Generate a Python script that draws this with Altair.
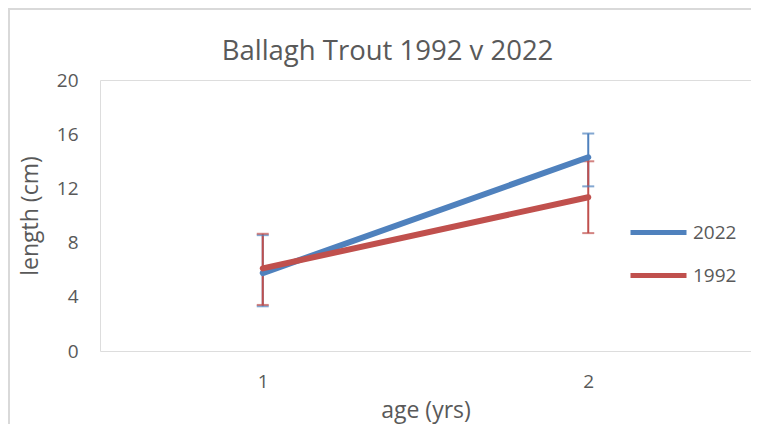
import altair as alt
import pandas as pd

ages = ["1", "2"]
series = ["2022", "1992"]
mean_2022 = [5.75, 14.3]
lo_2022 = [3.3, 12.15]
hi_2022 = [8.55, 16.05]
mean_1992 = [6.1, 11.35]
lo_1992 = [3.4, 8.7]
hi_1992 = [8.65, 14.0]

rows = []
for s, m, lo, hi in [("2022", mean_2022, lo_2022, hi_2022), ("1992", mean_1992, lo_1992, hi_1992)]:
    for a, mv, l, h in zip(ages, m, lo, hi):
        rows.append({"age": a, "series": s, "mean": mv, "lo": l, "hi": h})
df = pd.DataFrame(rows)

FONT = "Open Sans"
TXT = "#595959"
colors = ["#4F81BD", "#C0504D"]

x = alt.X("age:N", scale=alt.Scale(type="point", padding=0.5),
          axis=alt.Axis(title="age (yrs)", labelAngle=0, ticks=False, domain=False,
                        labelPadding=21, titlePadding=8, labelFontSize=19,
                        titleFontSize=23, labelColor=TXT, titleColor=TXT,
                        labelFont=FONT, titleFont=FONT, titleFontWeight="normal"))
y = alt.Y("mean:Q", scale=alt.Scale(domain=[0, 20]),
          axis=alt.Axis(title="length (cm)", values=[0, 4, 8, 12, 16, 20], grid=False,
                        ticks=False, domain=False, labelPadding=22, titlePadding=14,
                        labelFontSize=19, titleFontSize=23, labelColor=TXT,
                        titleColor=TXT, labelFont=FONT, titleFont=FONT,
                        titleFontWeight="normal"))
color = alt.Color("series:N", scale=alt.Scale(domain=series, range=colors),
                  sort=series,
                  legend=alt.Legend(title=None, orient="none", legendX=528, legendY=122,
                                    symbolType="stroke", symbolSize=3136,
                                    symbolStrokeWidth=5, symbolOpacity=1,
                                    labelFontSize=19, labelFont=FONT, labelColor=TXT,
                                    rowPadding=2, labelOffset=4))

base = alt.Chart(df)

frame = alt.Chart(pd.DataFrame({"a": [0]})).mark_rect(
    fill=None, stroke="#d9d9d9", strokeWidth=2).encode(
    x=alt.value(-91), x2=alt.value(720), y=alt.value(-71), y2=alt.value(420))

lines = base.mark_line(strokeWidth=6, strokeCap="round").encode(x=x, y=y, color=color)
bars = base.mark_rule(strokeWidth=2).encode(x=x, y=alt.Y("lo:Q"), y2="hi:Q", color=color)
cap_lo = base.mark_tick(thickness=2, size=12).encode(x=x, y=alt.Y("lo:Q"), color=color)
cap_hi = base.mark_tick(thickness=2, size=12).encode(x=x, y=alt.Y("hi:Q"), color=color)

chart = alt.layer(frame, bars, cap_lo, cap_hi, lines).properties(
    width=651, height=271,
    title=alt.TitleParams("Ballagh Trout 1992 v 2022", fontSize=27.5, font=FONT,
                          color=TXT, fontWeight="normal", dx=-38, offset=-57),
    autosize=alt.AutoSizeParams(type="none"),
    padding={"left": 92, "top": 72, "right": 0, "bottom": 73},
).configure_view(stroke="#d9d9d9", strokeWidth=2).configure(background="white")

chart.save("out.html", embed_options={"renderer": "svg", "actions": False})
